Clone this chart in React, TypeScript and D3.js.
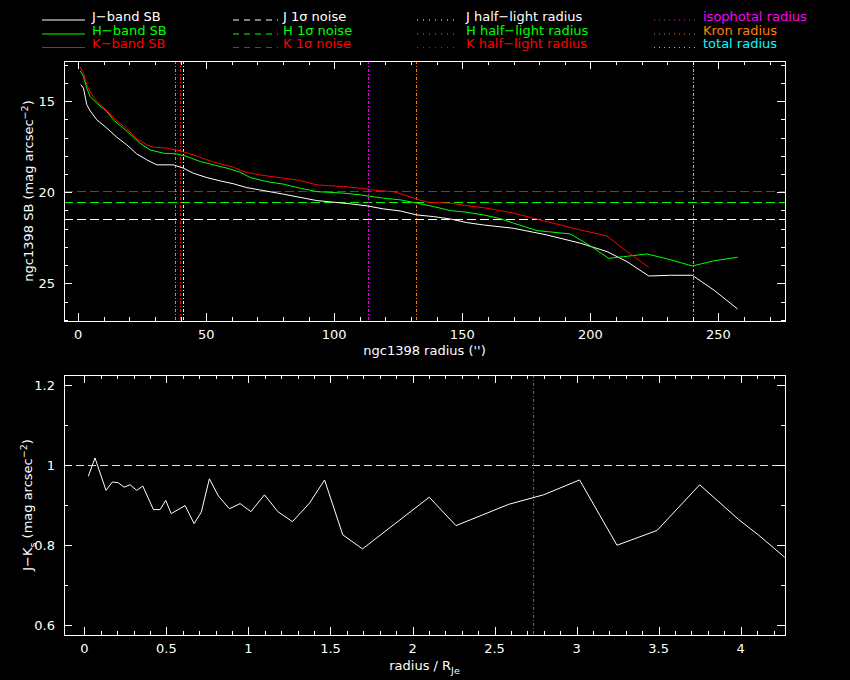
import * as d3 from 'd3';

// surface brightness profiles (radius in arcsec, mag arcsec^-2)
const jRadius = [1.05, 2.1, 3.4, 4.7, 7.3, 11.2, 15.1, 19.0, 22.9, 26.8, 30.7, 37.2, 41.1, 45.0, 50.3, 55.5, 60.7, 65.9, 70.8, 80.2, 93.2, 106.3, 112.8, 119.3, 125.8, 132.3, 138.8, 145.3, 151.8, 158.3, 170, 183.1, 196.1, 206.5, 214.3, 222.8, 231.3, 239.8, 248.2, 257.5];
const jSB = [14.1, 14.29, 15.2, 15.53, 16.03, 16.48, 16.98, 17.4, 17.9, 18.22, 18.5, 18.5, 18.68, 18.96, 19.2, 19.38, 19.54, 19.75, 19.87, 20.11, 20.46, 20.64, 20.75, 20.92, 21.03, 21.25, 21.34, 21.47, 21.67, 21.8, 21.98, 22.35, 22.8, 23.26, 23.81, 24.6, 24.56, 24.56, 25.37, 26.41];

const hRadius = [0.8, 2.1, 3.4, 4.7, 7.3, 11.2, 13.8, 16.4, 20.3, 24.2, 28.1, 33.3, 38.5, 42.5, 47.7, 52.9, 58.1, 63.3, 67.2, 73.7, 80.2, 86.7, 93.2, 103.6, 110.2, 119.3, 125.8, 132.3, 138.8, 145.3, 151.8, 158.3, 164.8, 170, 179.2, 192.2, 200, 207.2, 213.0, 222.1, 230.0, 239.8, 248.2, 257.5];
const hSB = [13.34, 13.65, 14.29, 14.75, 15.11, 15.57, 16.03, 16.34, 16.81, 17.31, 17.68, 17.86, 17.9, 18.04, 18.32, 18.5, 18.68, 18.9, 19.2, 19.42, 19.56, 19.78, 19.97, 20.05, 20.15, 20.33, 20.42, 20.6, 20.79, 21.01, 21.1, 21.25, 21.45, 21.7, 22.11, 22.29, 22.95, 23.63, 23.54, 23.39, 23.66, 24.05, 23.77, 23.57];

const kRadius = [0.8, 2.1, 3.4, 4.7, 7.3, 11.2, 15.1, 19.0, 22.9, 26.8, 29.4, 34.6, 39.8, 45.0, 50.3, 55.5, 60.7, 64.6, 70.8, 80.2, 86.7, 93.2, 103.6, 110.2, 116.7, 123.2, 128.4, 132.3, 136.2, 145.3, 151.8, 158.3, 170, 183.1, 196.1, 206.5, 214.3, 222.8];
const kSB = [13.13, 13.46, 14.1, 14.5, 15.02, 15.53, 16.08, 16.52, 17.07, 17.4, 17.53, 17.58, 17.73, 17.95, 18.23, 18.45, 18.63, 18.87, 19.05, 19.23, 19.36, 19.6, 19.69, 19.78, 19.91, 19.97, 20.2, 20.38, 20.55, 20.6, 20.74, 20.85, 21.15, 21.62, 22.07, 22.4, 23.26, 24.12];

// 1 sigma noise levels
const noiseLevels = [
  { band: 'J', value: 21.48, color: '#ffffff' },
  { band: 'H', value: 20.53, color: '#00ff00' },
  { band: 'K', value: 19.91, color: '#ff0000' },
];

// characteristic radii (arcsec)
const radiusMarks = [
  { name: 'H half-light', value: 38.0, color: '#00ff00' },
  { name: 'K half-light', value: 39.8, color: '#ff0000' },
  { name: 'J half-light', value: 41.1, color: '#ffffff' },
  { name: 'isophotal', value: 113.1, color: '#ff00ff' },
  { name: 'Kron', value: 131.8, color: '#ff8000' },
  { name: 'total', value: 240.1, color: '#00ffff' },
];

// J-Ks colour profile
const colorRadius = [0.024, 0.065, 0.132, 0.171, 0.207, 0.242, 0.279, 0.319, 0.356, 0.421, 0.462, 0.496, 0.529, 0.614, 0.669, 0.713, 0.762, 0.817, 0.884, 0.949, 1.015, 1.098, 1.179, 1.268, 1.372, 1.464, 1.575, 1.695, 2.102, 2.265, 2.585, 2.799, 3.018, 3.246, 3.49, 3.75, 3.988, 4.11, 4.268];
const colorJK = [0.972, 1.018, 0.937, 0.958, 0.956, 0.945, 0.951, 0.937, 0.948, 0.889, 0.889, 0.912, 0.879, 0.899, 0.854, 0.883, 0.966, 0.923, 0.891, 0.904, 0.884, 0.926, 0.884, 0.859, 0.905, 0.963, 0.826, 0.791, 0.92, 0.849, 0.902, 0.926, 0.963, 0.8, 0.837, 0.951, 0.864, 0.825, 0.77];
const colorRef = 1.0;
const isophotalRatio = 2.732;

const legendCol1 = [
  { label: 'J\u2212band SB', color: '#ffffff' },
  { label: 'H\u2212band SB', color: '#00ff00' },
  { label: 'K\u2212band SB', color: '#ff0000' },
];
const legendCol2 = [
  { label: 'J 1\u03c3 noise', color: '#ffffff' },
  { label: 'H 1\u03c3 noise', color: '#00ff00' },
  { label: 'K 1\u03c3 noise', color: '#ff0000' },
];
const legendCol3 = [
  { label: 'J half\u2212light radius', color: '#ffffff' },
  { label: 'H half\u2212light radius', color: '#00ff00' },
  { label: 'K half\u2212light radius', color: '#ff0000' },
];
const legendCol4 = [
  { label: 'isophotal radius', color: '#ff00ff' },
  { label: 'Kron radius', color: '#ff8000' },
  { label: 'total radius', color: '#00ffff' },
];

const W = 850;
const H = 680;
const FONT = '"DejaVu Sans", sans-serif';
const FS = 13;

const left = 64;
const right = 785;
const top1 = 61;
const bottom1 = 321;
const top2 = 375;
const bottom2 = 635;

const x1 = d3.scaleLinear().domain([-5.5, 276]).range([left, right]);
const y1 = d3.scaleLinear().domain([12.8, 27.07]).range([top1, bottom1]);
const x2 = d3.scaleLinear().domain([-0.124, 4.27]).range([left, right]);
const y2 = d3.scaleLinear().domain([0.576, 1.225]).range([bottom2, top2]);

const line = d3.line<[number, number]>();

function Frame({ x, y, xMinor, xMajor, yMinor, yMajor, xFmt, yFmt }: any) {
  const [x0, x1r] = x.range();
  const [ya, yb] = y.range();
  const yt = Math.min(ya, yb);
  const yB = Math.max(ya, yb);
  const xMinorT = d3.range(xMinor[0], xMinor[1] + 1e-9, xMinor[2]);
  const xMajorT = d3.range(xMajor[0], xMajor[1] + 1e-9, xMajor[2]);
  const yMinorT = d3.range(yMinor[0], yMinor[1] + 1e-9, yMinor[2]);
  const yMajorT = d3.range(yMajor[0], yMajor[1] + 1e-9, yMajor[2]);
  const isMajor = (v: number, arr: number[]) => arr.some((m) => Math.abs(m - v) < 1e-6);
  return (
    <g stroke="#fff" strokeWidth={1} shapeRendering="crispEdges">
      <rect x={x0} y={yt} width={x1r - x0} height={yB - yt} fill="none" />
      {xMinorT.map((v) => {
        const len = isMajor(v, xMajorT) ? 8 : 4;
        const px = Math.round(x(v)) + 0.5;
        return (
          <g key={'x' + v}>
            <line x1={px} x2={px} y1={yB} y2={yB - len} />
            <line x1={px} x2={px} y1={yt} y2={yt + len} />
          </g>
        );
      })}
      {yMinorT.map((v) => {
        const len = isMajor(v, yMajorT) ? 8 : 4;
        const py = Math.round(y(v)) + 0.5;
        return (
          <g key={'y' + v}>
            <line x1={x0} x2={x0 + len} y1={py} y2={py} />
            <line x1={x1r} x2={x1r - len} y1={py} y2={py} />
          </g>
        );
      })}
      <g stroke="none" fill="#fff" fontFamily={FONT} fontSize={FS}>
        {xMajorT.map((v) => (
          <text key={'xl' + v} x={x(v)} y={yB + 17.5} textAnchor="middle">
            {xFmt(v)}
          </text>
        ))}
        {yMajorT.map((v) => (
          <text key={'yl' + v} x={55} y={y(v) + 4.5} textAnchor="end">
            {yFmt(v)}
          </text>
        ))}
      </g>
    </g>
  );
}

function Legend() {
  const rows = [20.5, 34.5, 48];
  return (
    <g fontFamily={FONT} fontSize={FS}>
      {legendCol1.map((d, i) => (
        <g key={'a' + i}>
          <line x1={42} x2={85} y1={rows[i] - 0.5} y2={rows[i] - 0.5} stroke={d.color} />
          <text x={92} y={rows[i]} fill={d.color}>{d.label}</text>
        </g>
      ))}
      {legendCol2.map((d, i) => (
        <g key={'b' + i}>
          <line x1={233} x2={278} y1={rows[i] - 0.5} y2={rows[i] - 0.5} stroke={d.color} strokeDasharray="6,5" />
          <text x={283} y={rows[i]} fill={d.color}>{d.label}</text>
        </g>
      ))}
      {legendCol3.map((d, i) => (
        <g key={'c' + i}>
          <line x1={417} x2={458} y1={rows[i] - 0.5} y2={rows[i] - 0.5} stroke={d.color} strokeDasharray="1,5" />
          <text x={466} y={rows[i]} fill={d.color}>{d.label}</text>
        </g>
      ))}
      {legendCol4.map((d, i) => (
        <g key={'d' + i}>
          <line x1={654} x2={695} y1={rows[i] - 0.5} y2={rows[i] - 0.5} stroke={d.color} strokeDasharray="1,4" />
          <text x={703} y={rows[i]} fill={d.color}>{d.label}</text>
        </g>
      ))}
    </g>
  );
}

export default function App() {
  const jPts = jRadius.map((r, i) => [x1(r), y1(jSB[i])] as [number, number]);
  const hPts = hRadius.map((r, i) => [x1(r), y1(hSB[i])] as [number, number]);
  const kPts = kRadius.map((r, i) => [x1(r), y1(kSB[i])] as [number, number]);
  const cPts = colorRadius.map((r, i) => [x2(r), y2(colorJK[i])] as [number, number]);

  return (
    <svg
      width={W}
      height={H}
      style={{ position: 'absolute', left: 0, top: 0, background: '#000' }}
    >
      <defs>
        <clipPath id="clip1">
          <rect x={left} y={top1} width={right - left} height={bottom1 - top1} />
        </clipPath>
        <clipPath id="clip2">
          <rect x={left} y={top2} width={right - left} height={bottom2 - top2} />
        </clipPath>
      </defs>
      <rect x={0} y={0} width={W} height={H} fill="#000" />

      <Legend />

      {/* top panel: surface brightness */}
      <g clipPath="url(#clip1)">
        {noiseLevels.map((n) => (
          <line
            key={n.band}
            x1={left}
            x2={right}
            y1={Math.round(y1(n.value)) + 0.5}
            y2={Math.round(y1(n.value)) + 0.5}
            stroke={n.color}
            strokeDasharray="9,4"
            shapeRendering="crispEdges"
          />
        ))}
        {radiusMarks.map((m) => (
          <line
            key={m.name}
            x1={Math.round(x1(m.value)) + 0.5}
            x2={Math.round(x1(m.value)) + 0.5}
            y1={top1}
            y2={bottom1}
            stroke={m.color}
            strokeDasharray="3,2,1,2"
            shapeRendering="crispEdges"
          />
        ))}
        <path d={line(jPts) ?? ''} fill="none" stroke="#fff" strokeWidth={1} />
        <path d={line(hPts) ?? ''} fill="none" stroke="#00ff00" strokeWidth={1} />
        <path d={line(kPts) ?? ''} fill="none" stroke="#ff0000" strokeWidth={1} />
      </g>
      <Frame
        x={x1}
        y={y1}
        xMinor={[0, 270, 10]}
        xMajor={[0, 250, 50]}
        yMinor={[13, 27, 1]}
        yMajor={[15, 25, 5]}
        xFmt={(v: number) => String(v)}
        yFmt={(v: number) => String(v)}
      />
      <text x={(left + right) / 2} y={355} fill="#fff" fontFamily={FONT} fontSize={FS} textAnchor="middle">
        ngc1398 radius ('')
      </text>
      <text
        transform={`translate(33,${(top1 + bottom1) / 2}) rotate(-90)`}
        fill="#fff"
        fontFamily={FONT}
        fontSize={FS}
        textAnchor="middle"
      >
        ngc1398 SB (mag arcsec
        <tspan dy={-5} fontSize={9.5}>{'\u22122'}</tspan>
        <tspan dy={5}>)</tspan>
      </text>

      {/* bottom panel: colour profile */}
      <g clipPath="url(#clip2)">
        <line
          x1={left}
          x2={right}
          y1={Math.round(y2(colorRef)) + 0.5}
          y2={Math.round(y2(colorRef)) + 0.5}
          stroke="#ffff00"
          strokeDasharray="8,4"
          shapeRendering="crispEdges"
        />
        <line
          x1={Math.round(x2(isophotalRatio)) + 0.5}
          x2={Math.round(x2(isophotalRatio)) + 0.5}
          y1={top2}
          y2={bottom2}
          stroke="#ff00ff"
          strokeDasharray="3,2,1,2"
          shapeRendering="crispEdges"
        />
        <path d={line(cPts) ?? ''} fill="none" stroke="#fff" strokeWidth={1} />
      </g>
      <Frame
        x={x2}
        y={y2}
        xMinor={[0, 4.2, 0.1]}
        xMajor={[0, 4, 0.5]}
        yMinor={[0.6, 1.2, 0.1]}
        yMajor={[0.6, 1.2, 0.2]}
        xFmt={(v: number) => d3.format('~g')(+v.toFixed(2))}
        yFmt={(v: number) => d3.format('~g')(+v.toFixed(2))}
      />
      <text x={(left + right) / 2} y={669.5} fill="#fff" fontFamily={FONT} fontSize={FS} textAnchor="middle">
        radius / R<tspan dy={4} fontSize={9.5}>Je</tspan>
      </text>
      <text
        transform={`translate(32,${(top2 + bottom2) / 2}) rotate(-90)`}
        fill="#fff"
        fontFamily={FONT}
        fontSize={FS}
        textAnchor="middle"
      >
        J{'\u2212'}K<tspan dy={4} fontSize={9.5}>s</tspan>
        <tspan dy={-4}> (mag arcsec</tspan>
        <tspan dy={-5} fontSize={9.5}>{'\u22122'}</tspan>
        <tspan dy={5}>)</tspan>
      </text>
    </svg>
  );
}
